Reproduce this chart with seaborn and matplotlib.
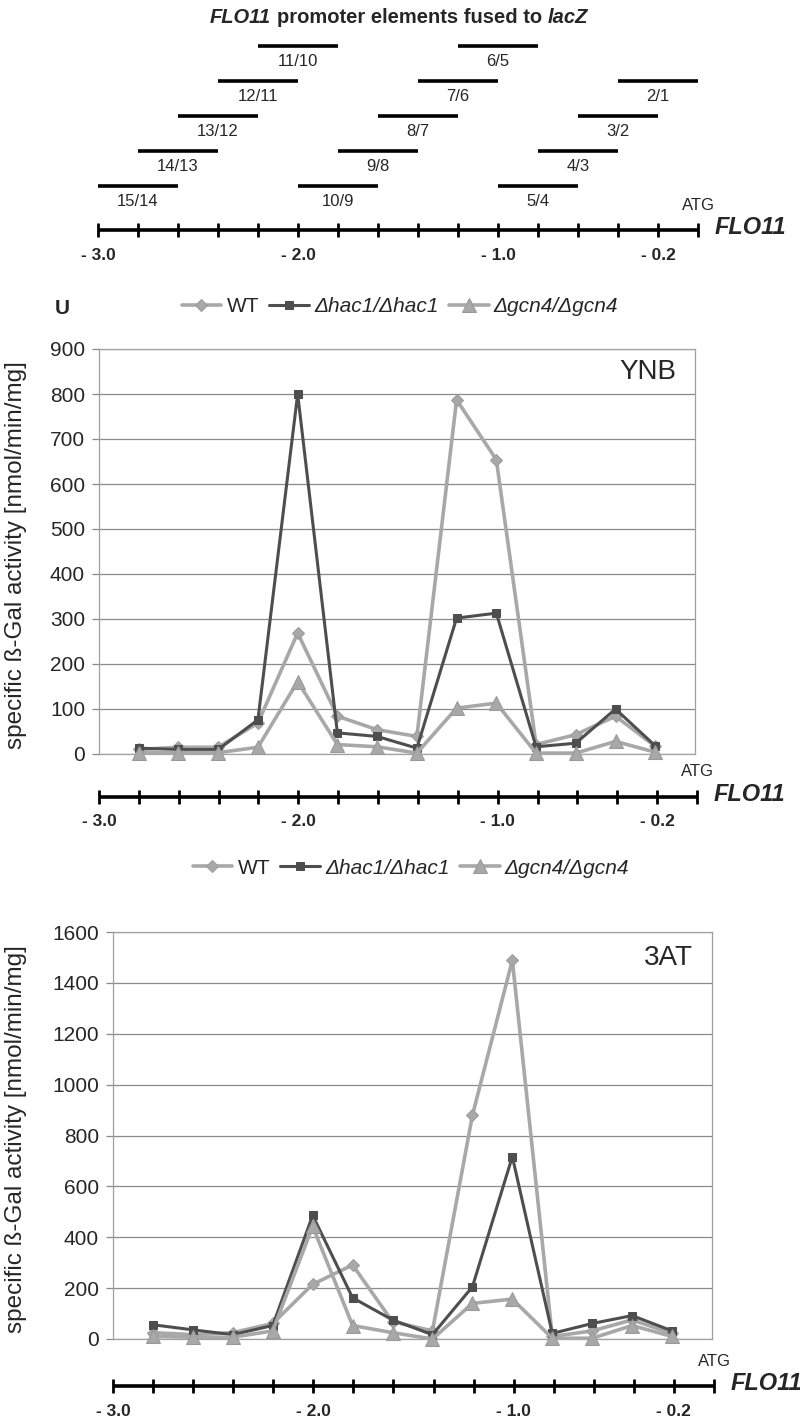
import matplotlib
matplotlib.use('Agg')
import matplotlib.pyplot as plt
import seaborn as sns

W, H = 800, 1418

# ---------------- data ----------------
positions_kb = [-2.8, -2.6, -2.4, -2.2, -2.0, -1.8, -1.6, -1.4, -1.2, -1.0, -0.8, -0.6, -0.4, -0.2]

element_labels = ['15/14', '14/13', '13/12', '12/11', '11/10', '10/9', '9/8',
                  '8/7', '7/6', '6/5', '5/4', '4/3', '3/2', '2/1']
element_start = [-3.0, -2.8, -2.6, -2.4, -2.2, -2.0, -1.8, -1.6, -1.4, -1.2, -1.0, -0.8, -0.6, -0.4]
element_end = [-2.6, -2.4, -2.2, -2.0, -1.8, -1.6, -1.4, -1.2, -1.0, -0.8, -0.6, -0.4, -0.2, 0.0]
element_row = [0, 1, 2, 3, 4, 0, 1, 2, 3, 4, 0, 1, 2, 3]

ruler_ticks = [-3.0, -2.8, -2.6, -2.4, -2.2, -2.0, -1.8, -1.6, -1.4, -1.2, -1.0,
               -0.8, -0.6, -0.4, -0.2, 0.0]
ruler_label_pos = [-3.0, -2.0, -1.0, -0.2]
ruler_labels = ['- 3.0', '- 2.0', '- 1.0', '- 0.2']

series_names = ['WT', 'Δhac1/Δhac1', 'Δgcn4/Δgcn4']

ynb_wt = [10, 15, 15, 69, 269, 84, 54, 39, 787, 654, 21, 43, 84, 17]
ynb_hac1 = [13, 10, 10, 76, 800, 47, 39, 13, 302, 313, 16, 24, 100, 18]
ynb_gcn4 = [3, 3, 3, 15, 161, 21, 16, 2, 102, 113, 2, 2, 28, 4]

at_wt = [25, 17, 25, 61, 215, 291, 68, 32, 879, 1489, 10, 32, 75, 22]
at_hac1 = [56, 36, 17, 53, 486, 162, 75, 17, 205, 717, 22, 61, 92, 32]
at_gcn4 = [10, 7, 7, 32, 443, 53, 25, 0, 140, 157, 3, 3, 53, 10]

ynb_yticks = [0, 100, 200, 300, 400, 500, 600, 700, 800, 900]
at_yticks = [0, 200, 400, 600, 800, 1000, 1200, 1400, 1600]

# ---------------- style ----------------
sns.set_style('white')
plt.rcParams['font.family'] = ['Liberation Sans', 'DejaVu Sans']

LIGHT = '#a8a8a8'
DARK = '#4e4e4e'
styles = [
    dict(color=LIGHT, marker='D', markersize=6.5, markeredgecolor='#9c9c9c', lw=2.6, zorder=3),
    dict(color=DARK, marker='s', markersize=6, markeredgecolor=DARK, lw=2.2, zorder=4),
    dict(color=LIGHT, marker='^', markersize=10.5, markeredgecolor='#999999', lw=2.6, zorder=5),
]

fig = plt.figure(figsize=(W / 100, H / 100), dpi=100)


def px_axes(left, top, right, bottom):
    return fig.add_axes([left / W, 1 - bottom / H, (right - left) / W, (bottom - top) / H])


def draw_ruler(left, right, y):
    ax = px_axes(left, y - 40, right, y + 34)
    ax.set_xlim(-3.0, 0.0)
    ax.set_ylim(34, -40)
    ax.axis('off')
    ax.hlines(0, ruler_ticks[0], ruler_ticks[-1], color='black', lw=2.6, clip_on=False)
    ax.vlines(ruler_ticks, -7, 7, color='black', lw=2.0, clip_on=False)
    for p, lab in zip(ruler_label_pos, ruler_labels):
        ax.text(p, 25, lab, ha='center', va='center', fontsize=12.5, fontweight='bold')
    ax.text(0.0, -25, 'ATG', ha='center', va='center', fontsize=12)
    ax.annotate('FLO11', xy=(0.0, 0), xytext=(12, 2), textcoords='offset points',
                ha='left', va='center', fontsize=17, fontweight='bold', fontstyle='italic',
                annotation_clip=False)
    return ax


# ---------------- title ----------------
renderer = fig.canvas.get_renderer()
pieces = [('FLO11', 'italic'), ('promoter elements fused to', 'normal'), ('lacZ', 'italic')]
TITLE_FS = 14.5
title_texts = [fig.text(0, 1 - 23 / H, s, fontsize=TITLE_FS, fontweight='bold', fontstyle=st,
                        va='baseline', ha='left') for s, st in pieces]
widths = [t.get_window_extent(renderer).width for t in title_texts]
space = 0.278 * TITLE_FS * 100 / 72
total = sum(widths) + space * (len(widths) - 1)
x = 399 - total / 2
for t, w in zip(title_texts, widths):
    t.set_x(x / W)
    x += w + space

# ---------------- promoter elements ----------------
axd = px_axes(98, 30, 698, 212)
axd.set_xlim(-3.0, 0.0)
axd.set_ylim((186 - 212) / 35, (186 - 30) / 35)
axd.axis('off')
axd.hlines(element_row, element_start, element_end, color='black', lw=2.6)
for lab, s, e, r in zip(element_labels, element_start, element_end, element_row):
    axd.text((s + e) / 2, r - 0.45, lab, ha='center', va='center', fontsize=12)
draw_ruler(98, 698, 230)


# ---------------- charts ----------------
def draw_chart(left, top, right, bottom, series, yticks, tag, tag_y, legend_x, legend_y, ruler_y):
    ax = px_axes(left, top, right, bottom)
    ax.set_xlim(-3.0, 0.0)
    ax.set_ylim(yticks[0], yticks[-1])
    ax.set_yticks(yticks)
    ax.set_xticks([])
    ax.yaxis.grid(True, color='#8a8a8a', lw=0.9)
    ax.set_axisbelow(True)
    for sp in ax.spines.values():
        sp.set_color('#a0a0a0')
        sp.set_linewidth(0.9)
    ax.tick_params(axis='y', left=True, length=5, width=0.9, color='#8a8a8a',
                   labelsize=15, pad=5)
    for name, vals, st in zip(series_names, series, styles):
        sns.lineplot(x=positions_kb, y=vals, ax=ax, label=name, clip_on=False, **st)
    handles, labels = ax.get_legend_handles_labels()
    if ax.get_legend() is not None:
        ax.get_legend().remove()
    leg = fig.legend(handles, labels, loc='center',
                     bbox_to_anchor=(legend_x / W, 1 - legend_y / H),
                     bbox_transform=fig.transFigure, ncol=3, frameon=False, fontsize=15,
                     handlelength=1.9, handletextpad=0.25, columnspacing=0.5,
                     borderpad=0, borderaxespad=0)
    for t in leg.get_texts()[1:]:
        t.set_fontstyle('italic')
    ax.set_xlabel('')
    ax.set_ylabel('')
    fig.text((right - 19) / W, 1 - tag_y / H, tag, ha='right', va='center', fontsize=20)
    fig.text(16 / W, 1 - ((top + bottom) / 2 + 4) / H, 'specific ß-Gal activity [nmol/min/mg]',
             rotation=90, ha='center', va='center', fontsize=17.5)
    draw_ruler(left, right + 2, ruler_y)
    return ax


draw_chart(99, 349, 695, 754, [ynb_wt, ynb_hac1, ynb_gcn4], ynb_yticks, 'YNB', 372,
           400, 307, 797)
draw_chart(113, 932, 712, 1339, [at_wt, at_hac1, at_gcn4], at_yticks, '3AT', 958,
           411, 868, 1386)

fig.text(62 / W, 1 - 308 / H, 'U', ha='center', va='center', fontsize=15, fontweight='bold')

fig.savefig('out.png', dpi=100)
